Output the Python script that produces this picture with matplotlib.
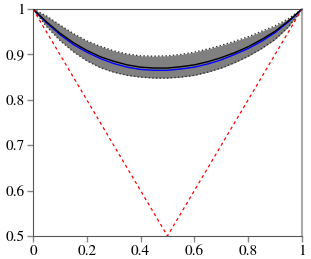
import numpy as np
import matplotlib.pyplot as plt

# Times-like font shipped with matplotlib
plt.rcParams['font.family'] = ['STIXGeneral', 'DejaVu Serif']

# Data
x = [0.0, 0.05, 0.1, 0.15, 0.2, 0.25, 0.3, 0.35, 0.4, 0.45, 0.5,
     0.55, 0.6, 0.65, 0.7, 0.75, 0.8, 0.85, 0.9, 0.95, 1.0]
mean_curve = [1.000, 0.972, 0.947, 0.926, 0.909, 0.895, 0.885, 0.877, 0.872, 0.870, 0.870,
              0.873, 0.877, 0.884, 0.893, 0.904, 0.917, 0.933, 0.951, 0.974, 1.000]
fit_curve = [1.000, 0.970, 0.944, 0.922, 0.905, 0.891, 0.880, 0.872, 0.867, 0.865, 0.865,
             0.868, 0.872, 0.879, 0.888, 0.900, 0.913, 0.929, 0.948, 0.972, 1.000]
band_upper = [1.000, 0.985, 0.965, 0.946, 0.930, 0.918, 0.908, 0.901, 0.897, 0.896, 0.897,
              0.900, 0.905, 0.912, 0.920, 0.929, 0.939, 0.951, 0.963, 0.979, 1.000]
band_lower = [1.000, 0.962, 0.931, 0.906, 0.886, 0.871, 0.861, 0.854, 0.850, 0.848, 0.848,
              0.850, 0.854, 0.861, 0.870, 0.882, 0.896, 0.913, 0.933, 0.961, 1.000]
bound_x = [0.0, 0.5, 1.0]
bound_y = [1.0, 0.5, 1.0]

# Plot
fig = plt.figure(figsize=(3.11, 2.59), dpi=100)
ax = fig.add_axes([0.106, 0.089, 0.865, 0.876])

ax.fill_between(x, band_lower, band_upper, color="#808080", linewidth=0, zorder=1)
ax.plot(x, band_upper, color="#333333", linestyle=":", linewidth=1.0, zorder=2)
ax.plot(x, band_lower, color="#333333", linestyle=":", linewidth=1.0, zorder=2)
ax.plot(x, fit_curve, color="blue", linewidth=1.0, zorder=3)
ax.plot(x, mean_curve, color="black", linewidth=1.0, zorder=4)
ax.plot(bound_x, bound_y, color="red", linestyle=(0, (2.5, 2.5)), linewidth=0.9, zorder=5)

ax.set_xlim(0, 1)
ax.set_ylim(0.5, 1)
ax.set_xticks([0, 0.2, 0.4, 0.6, 0.8, 1])
ax.set_xticklabels(["0", "0.2", "0.4", "0.6", "0.8", "1"])
ax.set_yticks([0.5, 0.6, 0.7, 0.8, 0.9, 1])
ax.set_yticklabels(["0.5", "0.6", "0.7", "0.8", "0.9", "1"])
ax.tick_params(direction="out", length=4, width=1, color="#888888", labelsize=11, pad=2)

for side in ["left", "bottom", "top"]:
    ax.spines[side].set_color("#555555")
ax.spines["right"].set_color("#aaaaaa")
ax.spines["right"].set_linewidth(1.5)

fig.savefig("out.png", dpi=100)
